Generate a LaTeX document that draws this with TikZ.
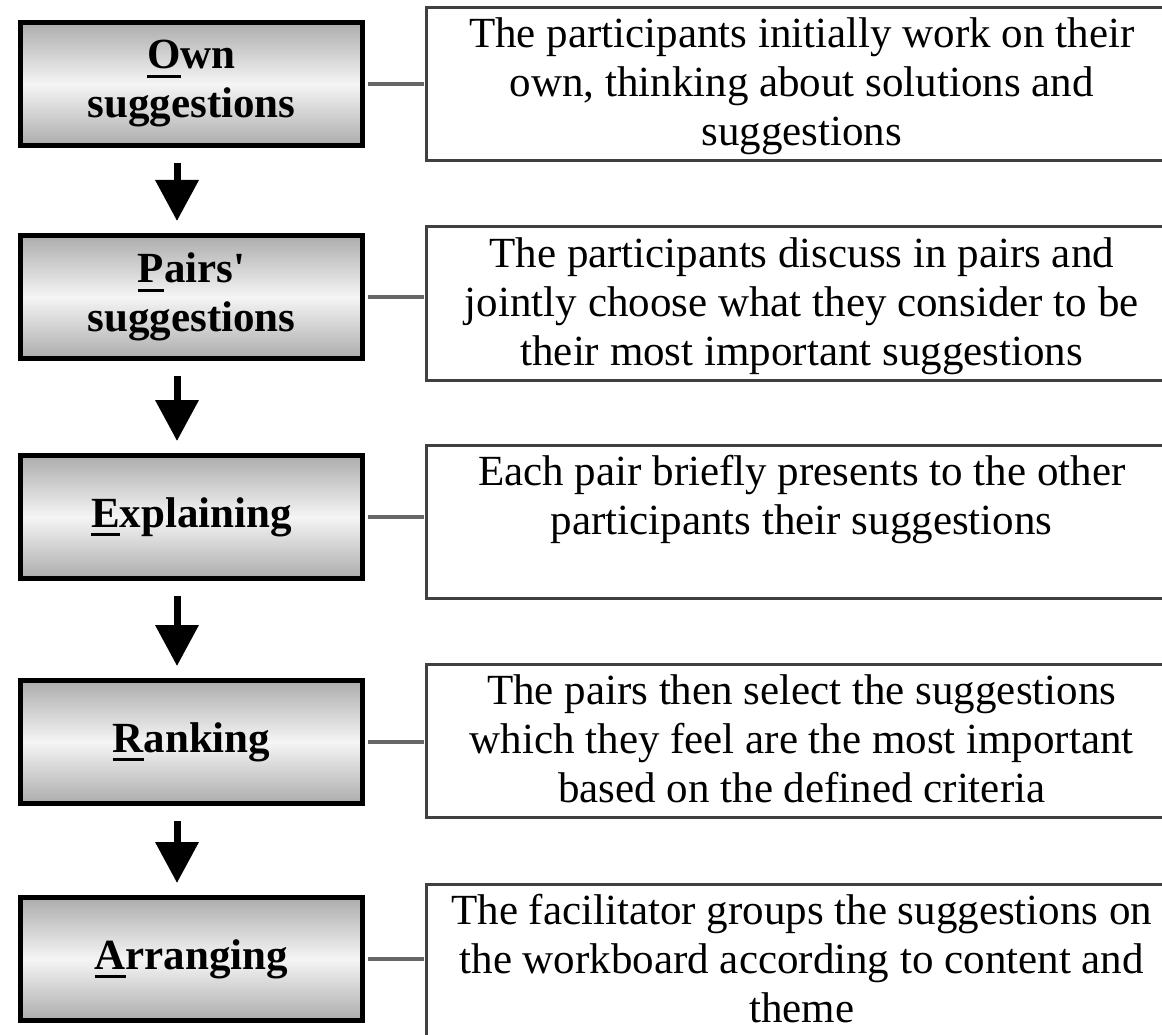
\documentclass[tikz,border=0pt]{standalone}
\usepackage{fontspec}
\setmainfont{Liberation Serif}[Ligatures=TeXOff]
\usetikzlibrary{arrows.meta}
\newcommand{\ulchar}[1]{\setbox0\hbox{#1}\rlap{\rule[-9pt]{\wd0}{3pt}}\box0}

\begin{document}
\begin{tikzpicture}
		[x=1pt,y=-1pt,
		stepbox/.style={rectangle,draw=black,line width=5pt,top color=gray!65,bottom color=gray!65,middle color=gray!8,minimum width=342pt,minimum height=123pt,align=center,font=\fontsize{43}{49}\selectfont\bfseries},
		descbox/.style={rectangle,draw=black!75,line width=3pt,fill=white,minimum width=750pt,text height=138pt,text depth=15pt,inner ysep=0pt,align=center,font=\fontsize{43}{49}\selectfont},
		twoline/.style={text height=89pt,text depth=64pt},
		link/.style={draw=black!60,line width=3.5pt,shorten <=2.5pt,shorten >=1.5pt},
		flow/.style={-{Triangle[length=41pt,width=42pt]},line width=7pt,shorten <=15pt,shorten >=12pt}]
		\useasboundingbox (0,0) rectangle (1162,1035);
		\clip (0,0) rectangle (1162,1035);

		\node[stepbox] (s1) at (191.5,84) {\ulchar{O}wn\\suggestions};
		\node[stepbox] (s2) at (191.5,297) {\ulchar{P}airs'\\suggestions};
		\node[stepbox] (s3) at (191.5,517) {\ulchar{E}xplaining};
		\node[stepbox] (s4) at (191.5,742) {\ulchar{R}anking};
		\node[stepbox] (s5) at (191.5,959) {\ulchar{A}rranging};

		\node[descbox] (t1) at (801.75,84) {The participants initially work on their\\own, thinking about solutions and\\suggestions};
		\node[descbox] (t2) at (801.75,303.5) {The participants discuss in pairs and\\jointly choose what they consider to be\\their most important suggestions};
		\node[descbox,twoline] (t3) at (801.75,521.5) {Each pair briefly presents to the other\\participants their suggestions};
		\node[descbox] (t4) at (801.75,741) {The pairs then select the suggestions\\which they feel are the most important\\based on the defined criteria};
		\node[descbox] (t5) at (801.75,961) {The facilitator groups the suggestions on\\the workboard according to content and\\theme};

		% step to description
		\draw[link] (s1.east) -- (s1.east -| t1.west);
		\draw[link] (s2.east) -- (s2.east -| t2.west);
		\draw[link] (s3.east) -- (s3.east -| t3.west);
		\draw[link] (s4.east) -- (s4.east -| t4.west);
		\draw[link] (s5.east) -- (s5.east -| t5.west);

		% step to step
		\draw[flow] ([xshift=-14.5pt]s1.south) -- ([xshift=-14.5pt]s2.north);
		\draw[flow] ([xshift=-14.5pt]s2.south) -- ([xshift=-14.5pt]s3.north);
		\draw[flow] ([xshift=-14.5pt]s3.south) -- ([xshift=-14.5pt]s4.north);
		\draw[flow] ([xshift=-14.5pt]s4.south) -- ([xshift=-14.5pt]s5.north);

	\end{tikzpicture}
\end{document}
